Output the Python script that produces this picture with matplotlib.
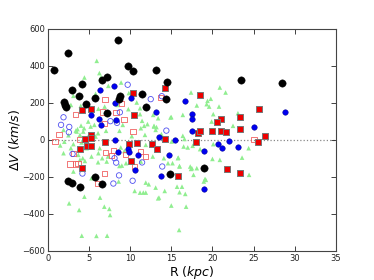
import matplotlib
matplotlib.use("Agg")
import matplotlib.pyplot as plt
import numpy as np

# black filled circles
blk_r = [0.7, 2.4, 8.5, 9.75, 10.3, 13.1, 14.5, 14.4, 11.4, 11.9, 8.8, 8.6, 7.15, 6.55,
         4.15, 2.95, 3.75, 5.75, 4.6, 7.2, 1.9, 2.1, 2.25, 23.5, 28.5,
         2.5, 2.9, 3.85, 5.75, 6.6, 14.85, 19.0]
blk_dv = [379, 467, 537, 400, 373, 379, 313, 222, 246, 179, 236, 222, 339, 321,
          301, 267, 237, 226, 192, 144, 203, 188, 178, 326, 307,
          -225, -231, -256, -200, -240, -182, -150]

# blue filled circles
blu_r = [6.3, 8.0, 8.1, 10.15, 5.2, 6.25, 6.5, 8.25, 13.2, 16.7, 17.5, 17.5, 17.5, 13.5,
         8.2, 15.5, 8.5, 9.75, 9.85, 10.9, 10.55, 13.7, 14.75, 18.95, 19.0, 20.7, 21.2,
         22.0, 23.1, 25.1, 28.8]
blu_dv = [268, 292, 200, 228, 137, 111, 83, 107, 150, 211, 139, 112, 49, 18,
          0, 0, -68, -50, -68, -83, -162, -196, -80, -60, -267, -23, -45,
          -4, -36, 72, 148]

# open blue circles
oblu_r = [9.7, 12.5, 13.85, 8.75, 7.6, 8.4, 1.9, 1.6, 2.6, 2.55, 14.4,
          3.0, 4.2, 8.1, 8.3, 8.65, 7.96, 10.3, 11.45, 13.9]
oblu_dv = [298, 220, 236, 149, 101, 92, 122, 81, 70, 41, 50,
           -76, -182, -99, -123, -192, -236, -221, -122, -144]

# red filled squares
red_r = [10.4, 14.2, 4.1, 5.3, 10.5, 5.25, 4.5, 5.3, 4.8, 5.3, 3.9, 4.2, 7.0, 9.87,
         10.8, 10.1, 12.6, 13.3, 14.2, 15.85, 17.95, 18.2, 18.5, 18.5, 25.6, 21.0,
         23.3, 20.6, 19.9, 21.1, 21.6, 23.4, 26.4, 25.5, 21.8, 23.3]
red_dv = [253, 281, 162, 166, 134, 28, 4, 9, -33, -32, -52, -153, -12, -20,
          -18, -115, -25, -49, 4, -193, -10, 36, 49, 240, 166, 114,
          123, 94, 50, 49, 42, 58, 22, -11, -159, -177]

# open red squares
ored_r = [6.95, 6.67, 3.4, 6.86, 8.29, 8.9, 9.26, 13.7, 10.35, 1.35, 0.87, 3.9,
          3.1, 2.7, 3.4, 3.65, 6.9, 6.1, 7.0, 7.7, 8.0, 9.4, 11.3, 11.9, 10.5, 25.05]
ored_dv = [220, 151, 137, 90, 149, 196, 110, 229, 45, 28, -11, 2,
           -74, -130, -130, -128, -182, -235, -67, -83, -56, -80, -62, -90, -144, 0]

# green triangles
grn_r = [5.94, 6.26, 4.44, 6.46, 8.9, 7.35, 5.8, 9.84, 10.8, 6.14, 9.78, 15.0, 16.4,
         17.4, 18.1, 19.3, 3.6, 4.03, 5.2, 4.3, 11.7, 12.9, 13.1,
         3.1, 2.8, 4.0, 4.9, 3.5, 5.65, 7.07, 6.1,
         11.2, 11.45, 12.8, 12.9, 14.9, 8.5, 8.7, 11.8, 13.8, 16.4,
         20.9, 21.6, 19.4, 19.8, 19.6, 20.8, 20.1, 23.1, 19.9, 22.5, 24.4, 20.1, 17.6,
         18.5, 20.0, 20.9, 23.6, 19.1, 18.95, 17.5, 17.7, 24.45,
         2.8, 1.9, 5.3, 6.14, 3.9, 4.5, 6.1, 7.15, 7.3, 3.1, 5.3, 4.44, 6.34, 2.58,
         3.8, 6.86, 7.47, 7.56, 4.12, 5.9, 7.2,
         8.86, 8.99, 8.6, 10.55, 11.6, 12.26, 13.1, 13.5, 14.2, 15.8, 16.0, 17.4, 15.7,
         16.3, 16.0, 16.7, 15.0, 16.8, 15.95, 14.1, 17.0,
         1.9, 3.4, 4.4, 3.9, 5.05, 5.8, 4.1, 3.1, 4.7, 4.24, 3.7,
         6.9, 11.2, 8.1, 9.1, 11.3, 12.1, 11.9, 6.3, 6.6, 9.5, 8.7, 11.3,
         13.4, 13.2, 15.05, 16.5, 12.75, 15.85, 14.6, 15.15, 16.0, 17.3,
         11.9, 11.2, 11.9, 13.4, 18.1, 19.2, 2.0, 2.5, 1.5, 16.6, 9.3, 10.2]
grn_dv = [427, 361, 337, 339, 310, 292, 249, 253, 202, 168, 166, 123, 135,
          256, 186, 193, 58, 77, 72, 45, 76, 76, 54,
          238, 189, 184, 99, 45, 81, 49, 36,
          139, 103, 135, 72, 121, 189, 49, 27, 31, 22,
          283, 256, 211, 222, 180, 180, 139, 144, 99, 76, -45, -23, -32,
          -50, -103, -108, -96, -211, -225, -153, -189, -189,
          -45, -72, -90, -72, -108, -114, -121, -117, -90, -171, -207, -307, -312, -343,
          -379, -361, -373, -406, -518, -519, -518,
          -41, -139, -225, -276, -285, -240, -258, -312, -276, -99, -144, -157, -253,
          -253, -283, -292, -355, -361, -487, -99, -41,
          54, 50, 63, 27, 32, 18, -14, -23, -45, -99, -81,
          180, 171, 108, 81, 63, 85, -27, -45, -99, -126, -141, -117,
          117, 69, -9, -36, -90, -96, -126, -126, -141, -144,
          -231, -285, -285, -316, -153, -216, -10, 25, -30, 5, -60, 20]

fig = plt.figure(figsize=(3.74, 2.80), dpi=100)
ax = fig.add_axes([0.128, 0.104, 0.770, 0.793])

ax.axhline(0, color='#888888', linestyle=':', linewidth=0.9, zorder=1)

ax.scatter(grn_r, grn_dv, marker='^', s=11, color='#90ee90', edgecolors='none', zorder=2)
ax.scatter(ored_r, ored_dv, marker='s', s=14, facecolors='none', edgecolors='#f06060',
           linewidths=0.6, zorder=3)
ax.scatter(oblu_r, oblu_dv, marker='o', s=15, facecolors='none', edgecolors='#5050f0',
           linewidths=0.6, zorder=3)
ax.scatter(red_r, red_dv, marker='s', s=18, color='#ee0000', edgecolors='#777777',
           linewidths=0.7, zorder=4)
ax.scatter(blu_r, blu_dv, marker='o', s=16, color='#0000ee', edgecolors='#000088',
           linewidths=0.3, zorder=5)
ax.scatter(blk_r, blk_dv, marker='o', s=28, color='black', edgecolors='black',
           linewidths=0.3, zorder=6)

ax.set_xlim(0, 35)
ax.set_ylim(-600, 600)
ax.set_xticks(np.arange(0, 36, 5))
ax.set_yticks(np.arange(-600, 601, 200))
ax.tick_params(direction='in', top=True, right=True, labelsize=6, length=3.5,
               width=0.6, pad=2, colors='#222222')
for sp in ax.spines.values():
    sp.set_linewidth(0.8)
    sp.set_color('#444444')

ax.set_xlabel(r'R $(kpc)$', fontsize=9, labelpad=1)
ax.set_ylabel(r'$\Delta V\ (km/s)$', fontsize=9, labelpad=0)

fig.savefig('out.png', dpi=100)
